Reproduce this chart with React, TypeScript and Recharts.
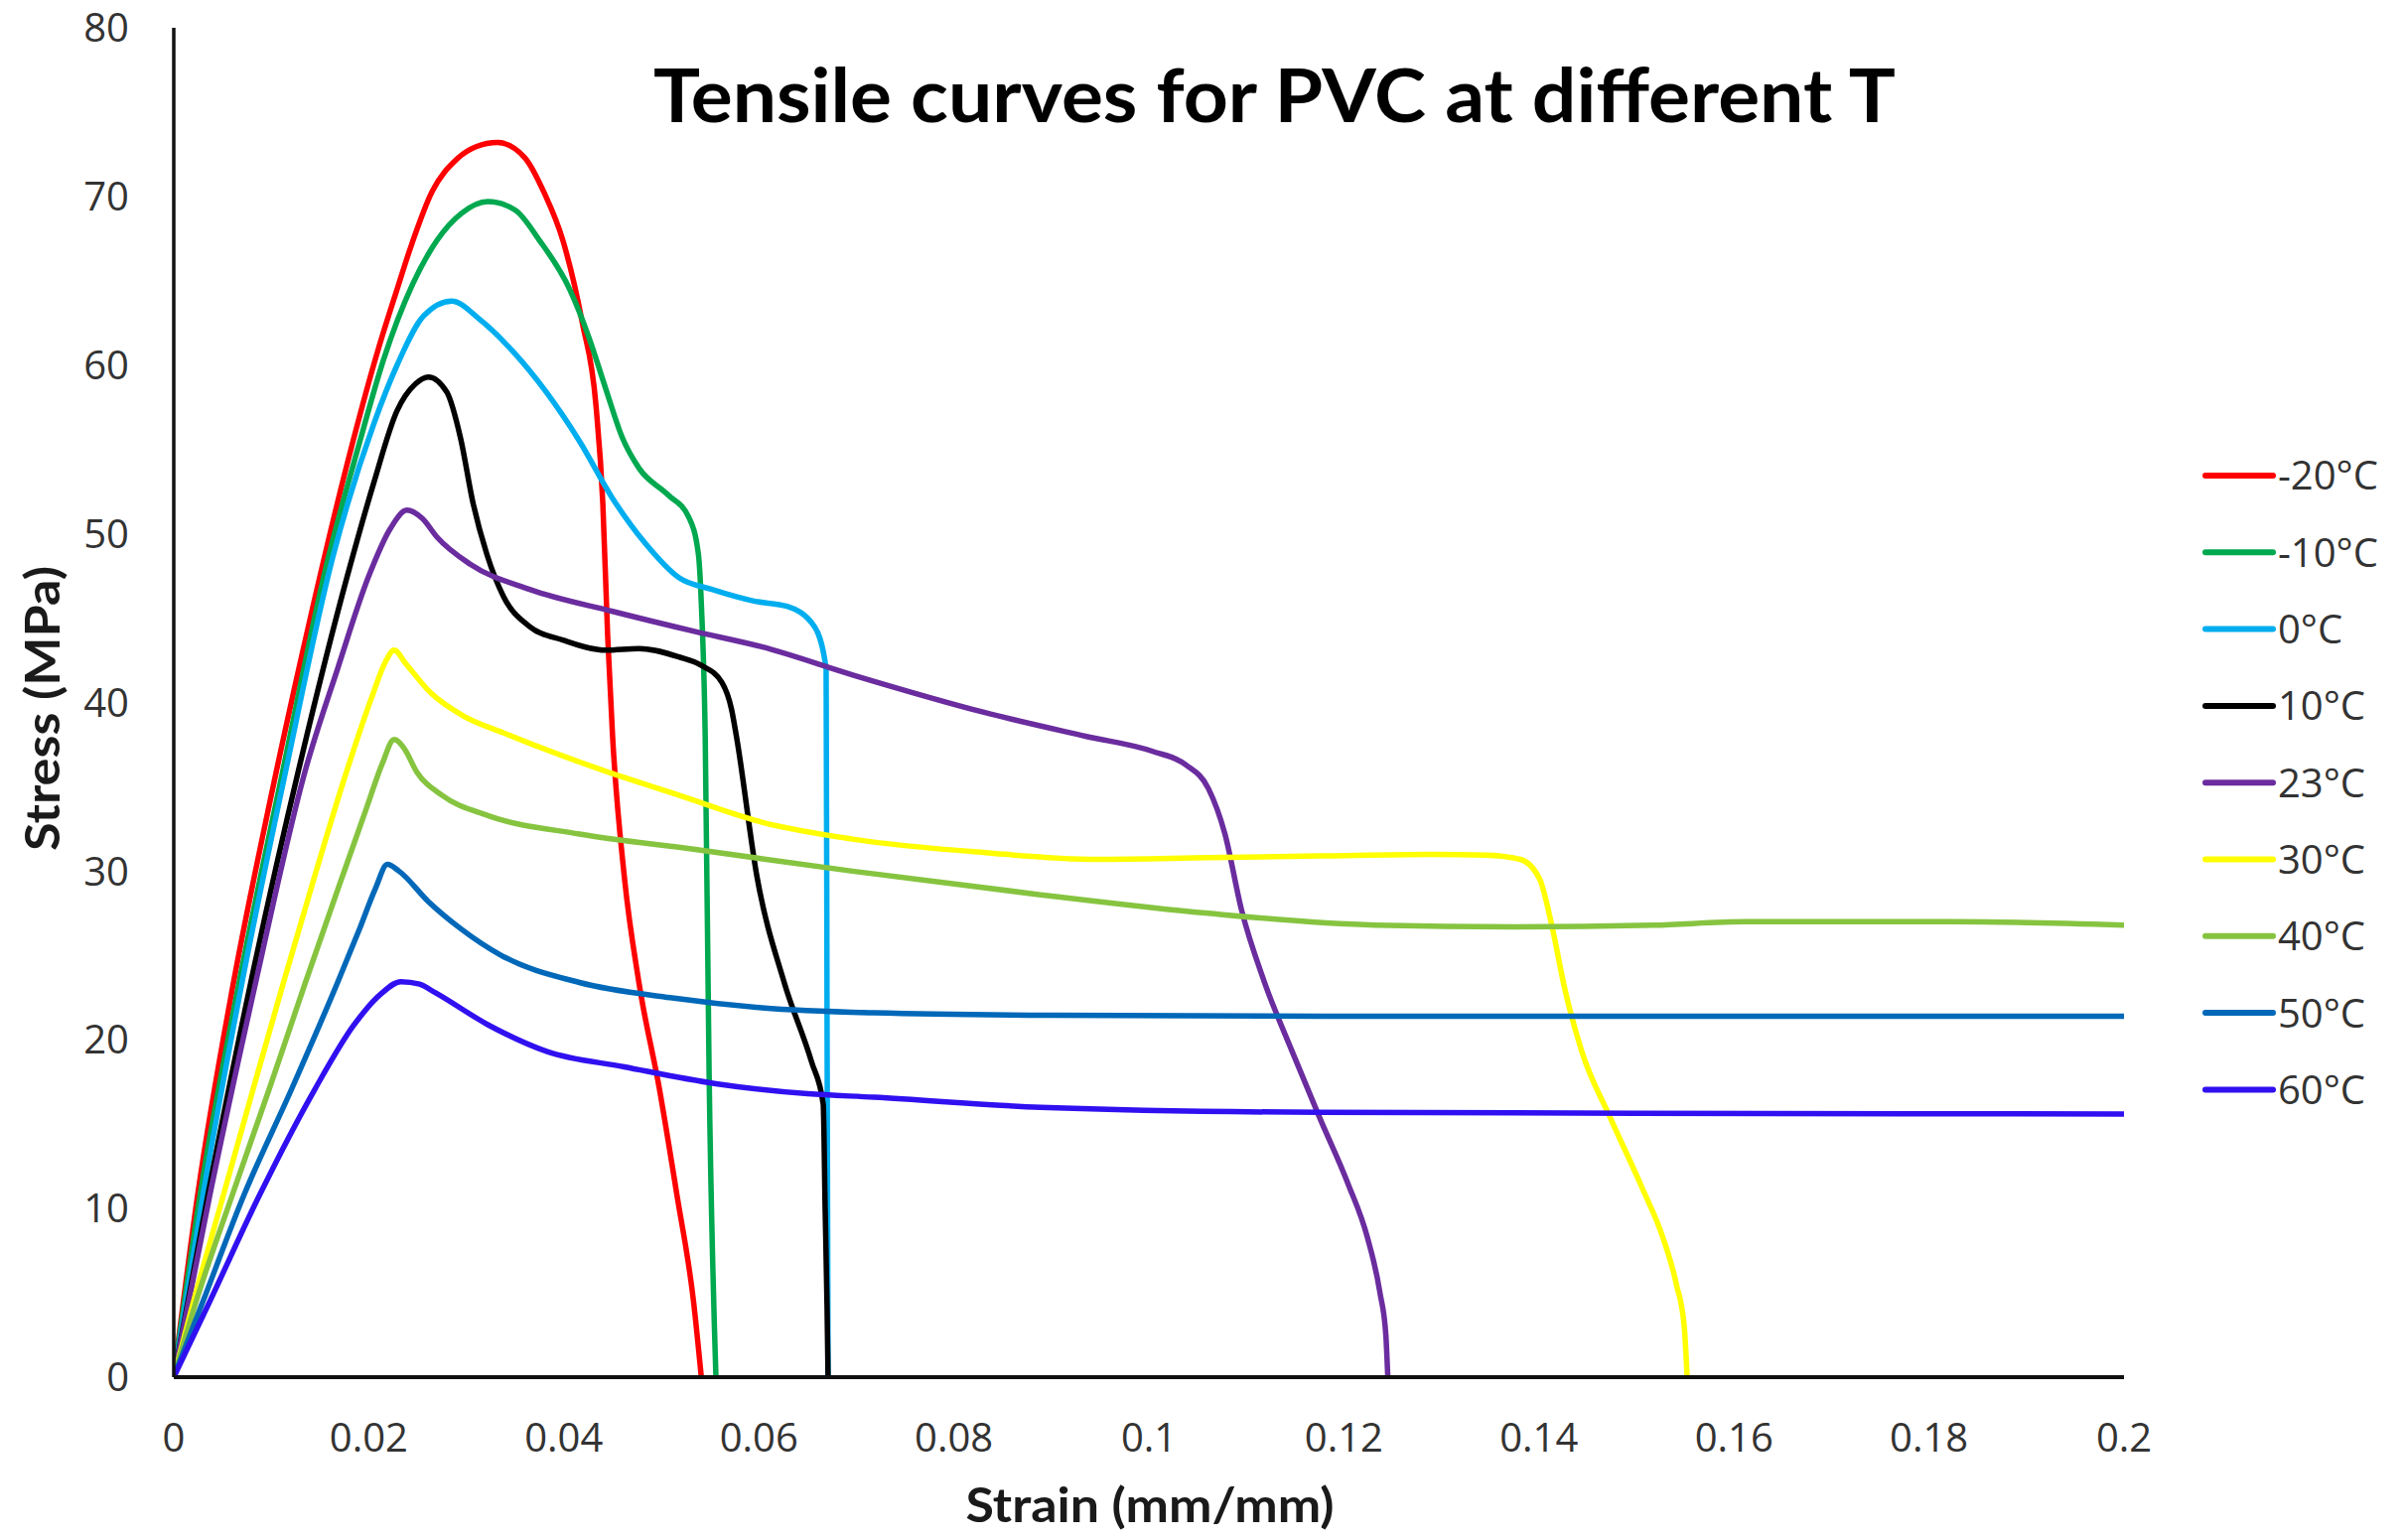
import React from 'react';
import { LineChart, Line, XAxis, YAxis, Customized } from 'recharts';

// ---------- data (strain mm/mm, stress MPa) ----------
const strainM20 = [0, 0.0025, 0.006, 0.010, 0.014, 0.0175, 0.021, 0.0229, 0.0243, 0.0265, 0.029, 0.031, 0.0332, 0.036, 0.038, 0.0399, 0.0419, 0.0433, 0.044, 0.0445, 0.045, 0.0462, 0.0477, 0.0498, 0.0516, 0.0533, 0.0541];
const stressM20 = [0, 11, 23, 34.5, 45, 53.5, 61, 64.5, 67, 70.3, 72.2, 72.95, 73.2, 72.3, 70.2, 67.4, 62.5, 57.6, 51.8, 43.9, 38, 29.7, 23.4, 17.1, 10.8, 4.5, 0];

const strainM10 = [0, 0.0027, 0.0067, 0.0112, 0.0156, 0.019, 0.0215, 0.0245, 0.027, 0.0295, 0.0322, 0.035, 0.0375, 0.0406, 0.0426, 0.0443, 0.046, 0.0477, 0.0507, 0.0528, 0.0538, 0.0541, 0.0545, 0.0549, 0.0556];
const stressM10 = [0, 10.8, 23.4, 36, 48, 55.3, 60.3, 64.8, 67.4, 69.0, 69.7, 69.2, 67.4, 64.5, 61.6, 58.6, 55.7, 53.9, 52.3, 51.0, 48.8, 45.9, 38, 18, 0];

const strain0 = [0, 0.003, 0.007, 0.0115, 0.0163, 0.0205, 0.0229, 0.0256, 0.0285, 0.0314, 0.0348, 0.0382, 0.0416, 0.045, 0.0484, 0.0518, 0.0552, 0.0596, 0.0629, 0.0657, 0.0669, 0.067, 0.0671];
const stress0 = [0, 10.8, 23.4, 36, 48.6, 56.5, 60.0, 62.9, 63.8, 62.7, 60.8, 58.4, 55.5, 52.1, 49.4, 47.4, 46.7, 46.0, 45.7, 44.5, 42.0, 20, 0];

const strain10 = [0, 0.0035, 0.0079, 0.0128, 0.0178, 0.0205, 0.0229, 0.0248, 0.0261, 0.028, 0.0294, 0.0307, 0.0321, 0.0338, 0.0365, 0.0399, 0.0443, 0.0477, 0.0518, 0.0541, 0.0562, 0.0572, 0.0577, 0.0598, 0.0626, 0.0654, 0.0666, 0.0668, 0.067, 0.0671];
const stress10 = [0, 10.8, 23.4, 36, 47.5, 53, 57.3, 58.9, 59.3, 58.4, 55.7, 51.8, 48.8, 46.3, 44.5, 43.7, 43.1, 43.2, 42.7, 42.2, 41.2, 39.6, 38.0, 29.7, 23.4, 18.7, 16.2, 10, 4, 0];

const strain23 = [0, 0.0037, 0.0084, 0.0135, 0.0168, 0.02, 0.0222, 0.0239, 0.0255, 0.027, 0.0304, 0.0365, 0.045, 0.0535, 0.0603, 0.0698, 0.0832, 0.0935, 0.1004, 0.1038, 0.1061, 0.1078, 0.1095, 0.1118, 0.1147, 0.1175, 0.1204, 0.1224, 0.1237, 0.1243, 0.1245];
const stress23 = [0, 10.8, 23.4, 36, 42, 47.5, 50.3, 51.4, 50.9, 49.8, 48.2, 46.7, 45.4, 44.2, 43.3, 41.6, 39.4, 38.0, 37.1, 36.3, 34.9, 32.2, 27.7, 23.5, 19.3, 15.4, 11.5, 8.3, 5.0, 2.5, 0];

const strain30 = [0, 0.0018, 0.0049, 0.0081, 0.0112, 0.0145, 0.0175, 0.0203, 0.0217, 0.0226, 0.0238, 0.0263, 0.0297, 0.0338, 0.0439, 0.0518, 0.0603, 0.0696, 0.0832, 0.0947, 0.1061, 0.1175, 0.1289, 0.1346, 0.1381, 0.1401, 0.1412, 0.1427, 0.1444, 0.1473, 0.1506, 0.1527, 0.1541, 0.1549, 0.1552];
const stress30 = [0, 4.0, 10.4, 17.0, 23.3, 29.8, 35.5, 40.3, 42.4, 43.1, 42.3, 40.6, 39.2, 38.2, 36, 34.5, 32.9, 31.9, 31.1, 30.7, 30.8, 30.9, 31.0, 30.95, 30.7, 29.5, 27.1, 22.9, 19.3, 15.4, 11.2, 8.3, 5.5, 3.0, 0];

const strain40 = [0, 0.0023, 0.006, 0.0098, 0.0135, 0.0173, 0.0198, 0.0214, 0.0226, 0.0236, 0.0249, 0.0275, 0.0322, 0.0416, 0.0533, 0.0696, 0.0889, 0.1061, 0.1232, 0.1375, 0.1518, 0.1612, 0.1826, 0.2];
const stress40 = [0, 4.5, 10.8, 17.1, 23.4, 29.7, 33.8, 36.4, 37.8, 37.3, 35.9, 34.5, 33.3, 32.2, 31.3, 30.0, 28.6, 27.5, 26.8, 26.7, 26.8, 27.0, 27.0, 26.8];

const strain50 = [0, 0.003, 0.0072, 0.0121, 0.0168, 0.019, 0.0207, 0.0219, 0.0231, 0.0261, 0.0294, 0.0336, 0.0416, 0.0509, 0.0603, 0.0718, 0.09, 0.12, 0.15, 0.2];
const stress50 = [0, 4.5, 10.8, 17.1, 23.4, 26.5, 29.0, 30.4, 30.0, 28.2, 26.6, 25.0, 23.4, 22.5, 21.9, 21.6, 21.45, 21.4, 21.4, 21.4];

const strain60 = [0, 0.0037, 0.0088, 0.0145, 0.0185, 0.0212, 0.0233, 0.0252, 0.0268, 0.0322, 0.0383, 0.0462, 0.0556, 0.065, 0.0718, 0.0889, 0.1175, 0.15, 0.2];
const stress60 = [0, 4.5, 10.8, 17.1, 20.9, 22.7, 23.45, 23.3, 22.8, 20.9, 19.3, 18.4, 17.4, 16.8, 16.6, 16.0, 15.7, 15.65, 15.6];

const seriesNames = ['-20°C', '-10°C', '0°C', '10°C', '23°C', '30°C', '40°C', '50°C', '60°C'];
const seriesColors = ['#FF0000', '#00A84F', '#00AEEF', '#000000', '#6A2C9E', '#FFFF00', '#86C440', '#0068B8', '#3010F0'];
const seriesStrain = [strainM20, strainM10, strain0, strain10, strain23, strain30, strain40, strain50, strain60];
const seriesStress = [stressM20, stressM10, stress0, stress10, stress23, stress30, stress40, stress50, stress60];

const xTicks = [0, 0.02, 0.04, 0.06, 0.08, 0.1, 0.12, 0.14, 0.16, 0.18, 0.2];
const yTicks = [0, 10, 20, 30, 40, 50, 60, 70, 80];

const titleText = 'Tensile curves for PVC at different T';
const xLabelText = 'Strain (mm/mm)';
const yLabelText = 'Stress (MPa)';

const series = seriesNames.map((name, i) => ({
  name,
  color: seriesColors[i],
  data: seriesStrain[i].map((x, j) => ({ x, y: seriesStress[i][j] })),
}));

// ---------- layout ----------
const W = 2417;
const H = 1535;
const TICK_FONT = "'Open Sans', 'Noto Sans', sans-serif";
const TITLE_FONT = "Lato, 'Open Sans', sans-serif";

function Overlay() {
  return (
    <g>
      <text
        x={1275.5}
        y={114.7}
        textAnchor="middle"
        fontFamily={TITLE_FONT}
        fontWeight={700}
        fontSize={75}
        fill="#000"
        textLength={1251}
        lengthAdjust="spacingAndGlyphs"
      >
        {titleText}
      </text>
      <text
        x={1150}
        y={1525}
        textAnchor="middle"
        fontFamily={TITLE_FONT}
        fontWeight={700}
        fontSize={47}
        fill="#1a1a1a"
        textLength={371}
        lengthAdjust="spacingAndGlyphs"
      >
        {xLabelText}
      </text>
      <text
        x={0}
        y={0}
        transform={`translate(52, 705.5) rotate(-90)`}
        textAnchor="middle"
        fontFamily={TITLE_FONT}
        fontWeight={700}
        fontSize={47}
        fill="#1a1a1a"
        textLength={287}
        lengthAdjust="spacingAndGlyphs"
      >
        {yLabelText}
      </text>
      {series.map((s, i) => {
        const cy = 471 + i * 77.3;
        return (
          <g key={s.name}>
            <line x1={2213} x2={2281} y1={cy} y2={cy} stroke={s.color} strokeWidth={6} strokeLinecap="round" />
            <text x={2286} y={cy} dy="0.36em" fontFamily={TICK_FONT} fontSize={40} fill="#333">
              {s.name}
            </text>
          </g>
        );
      })}
      <text x={2410} y={1520} fontFamily={TICK_FONT} fontSize={40} fill="#444">1</text>
    </g>
  );
}

export default function App() {
  return (
    <div style={{ width: W, height: H, background: '#fff' }}>
      <LineChart width={W} height={H} margin={{ top: 20, right: W - 2131, bottom: 56, left: 0 }}>
        <XAxis
          dataKey="x"
          type="number"
          domain={[0, 0.2]}
          ticks={xTicks}
          allowDataOverflow
          tickLine={false}
          tickMargin={41}
          height={100}
          interval={0}
          tickFormatter={(v: number) => String(v)}
          tick={{ fontFamily: TICK_FONT, fontSize: 40, fill: '#333' }}
          axisLine={{ stroke: '#111', strokeWidth: 4 }}
        />
        <YAxis
          type="number"
          domain={[0, 80]}
          ticks={yTicks}
          allowDataOverflow
          tickLine={false}
          tickMargin={39}
          width={167}
          interval={0}
          tick={{ fontFamily: TICK_FONT, fontSize: 40, fill: '#333' }}
          axisLine={{ stroke: '#111', strokeWidth: 3.5 }}
        />
        {series.map((s) => (
          <Line
            key={s.name}
            data={s.data}
            dataKey="y"
            name={s.name}
            type="monotone"
            stroke={s.color}
            strokeWidth={5.5}
            strokeLinejoin="round"
            strokeLinecap="round"
            dot={false}
            activeDot={false}
            isAnimationActive={false}
          />
        ))}
        <Customized component={<Overlay />} />
      </LineChart>
    </div>
  );
}
